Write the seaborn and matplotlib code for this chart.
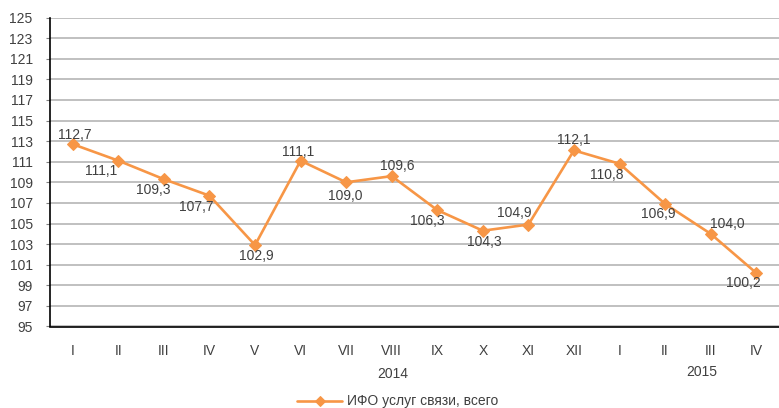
import matplotlib
matplotlib.use("Agg")
import matplotlib.pyplot as plt
import seaborn as sns
import pandas as pd

# Index of physical volume of communication services, by period
periods = ["I", "II", "III", "IV", "V", "VI", "VII", "VIII", "IX", "X", "XI", "XII",
           "I", "II", "III", "IV"]
values = [112.7, 111.1, 109.3, 107.7, 102.9, 111.1, 109.0, 109.6, 106.3, 104.3, 104.9,
          112.1, 110.8, 106.9, 104.0, 100.2]
years = ["2014", "2015"]
series_name = "ИФО услуг связи, всего"
y_ticks = list(range(95, 126, 2))

# offsets (pixels, right / up) of each value label from its point
label_offsets = [(2, 9.5), (-17, -10.5), (-11, -11), (-13, -11), (1.5, -11), (-2.5, 8.5),
                 (-1, -14), (6, 10), (-10, -10.5), (1, -11.5), (-14.5, 12), (0, 10.5),
                 (-13, -11.5), (-7, -10.5), (17, 9.5), (-12.5, -10)]

sns.set_theme(style="white")
plt.rcParams["font.family"] = ["Liberation Sans", "DejaVu Sans"]

text_color = "#404040"
line_color = "#F79646"
fs = 10
px = 0.72  # points per pixel at 100 dpi

df = pd.DataFrame({"pos": range(len(values)), "value": values})

fig = plt.figure(figsize=(7.79, 4.08), dpi=100)
W, H = 779, 408
ax = fig.add_axes([50 / W, (H - 326.5) / H, 729 / W, 309 / H])

sns.lineplot(data=df, x="pos", y="value", ax=ax, color=line_color, linewidth=1.9,
             marker="D", markersize=6, markeredgecolor=line_color, sort=False,
             label=series_name, legend=False)

ax.set_xlim(-0.47, 15.28)
ax.set_ylim(95, 125)
ax.set_yticks(y_ticks)
ax.set_yticklabels([str(t) for t in y_ticks], fontsize=fs, color=text_color)
ax.yaxis.grid(True, color="#C0C0C0", linewidth=1.4)
ax.set_axisbelow(True)

# category labels at centres, tick marks at boundaries
ax.set_xticks(range(len(periods)))
ax.set_xticklabels(periods, fontsize=fs, color=text_color)
ax.set_xticks([i - 0.5 for i in range(len(periods) + 1)], minor=True)
ax.tick_params(axis="x", which="major", length=0, pad=12.5)
ax.tick_params(axis="x", which="minor", length=4, width=0.8, color="#808080", direction="out")
ax.tick_params(axis="y", which="major", length=3, width=0.8, color="#808080",
               direction="out", left=True, pad=9.5)
ax.set_xlabel("")
ax.set_ylabel("")

for side in ["top", "right"]:
    ax.spines[side].set_visible(False)
for side in ["left", "bottom"]:
    ax.spines[side].set_color("black")
    ax.spines[side].set_linewidth(1.2)

# value labels
for i, (v, (dx, dy)) in enumerate(zip(values, label_offsets)):
    ax.annotate(f"{v:.1f}".replace(".", ","), (i, v), xytext=(dx * px, dy * px),
                textcoords="offset points", ha="center", va="center",
                fontsize=fs, color=text_color)

# year group labels
fig.text(393 / W, 1 - 374 / H, years[0], ha="center", va="center", fontsize=fs, color=text_color)
fig.text(702 / W, 1 - 372 / H, years[1], ha="center", va="center", fontsize=fs, color=text_color)

handles, labels = ax.get_legend_handles_labels()
fig.legend(handles, labels, loc="center", bbox_to_anchor=(398 / W, 1 - 401.5 / H),
           frameon=False, fontsize=fs, handlelength=3.2, handletextpad=0.4,
           labelcolor=text_color, markerscale=0.85)

fig.savefig("out.png", dpi=100)
